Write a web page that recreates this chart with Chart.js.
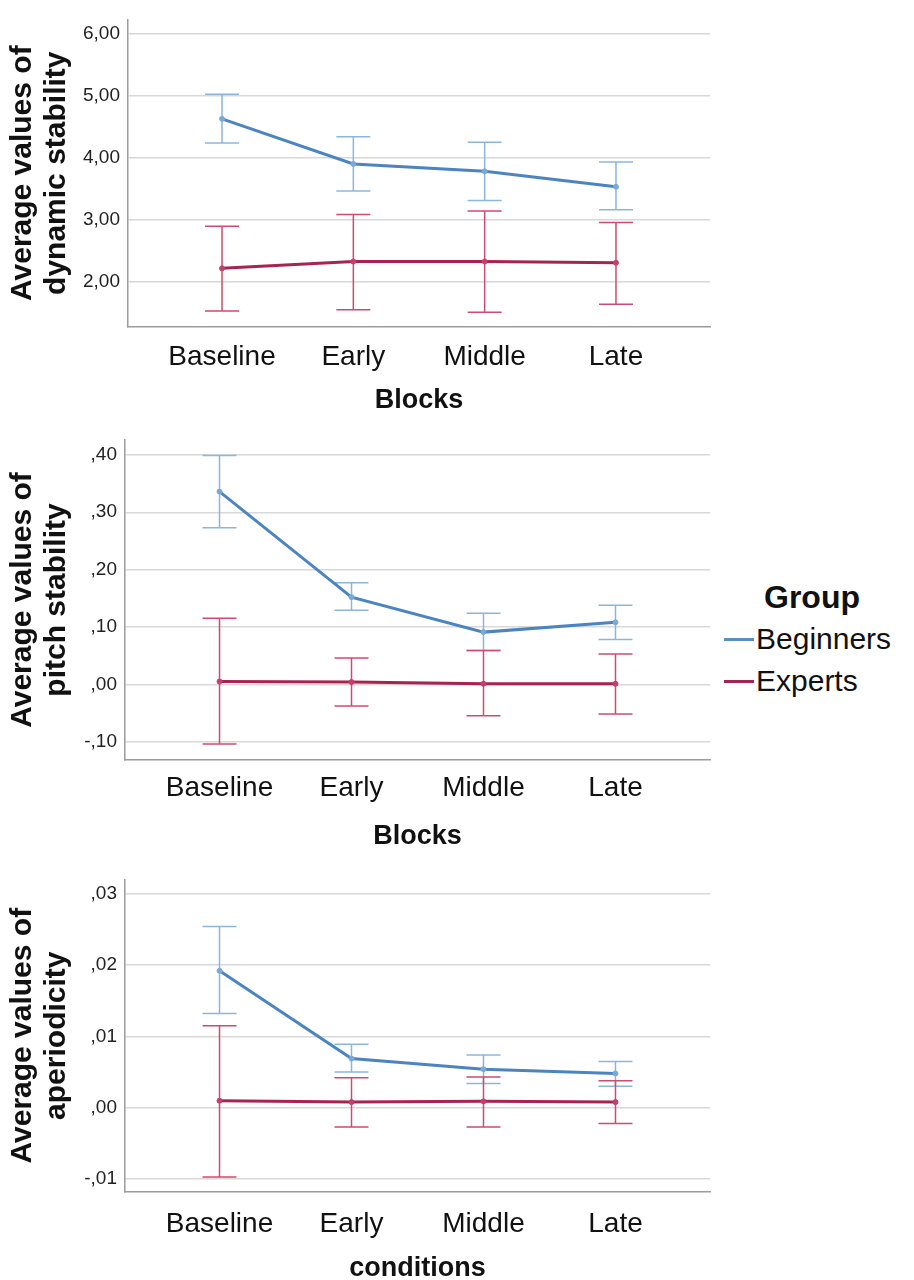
<!DOCTYPE html>
<html>
<head>
<meta charset="utf-8">
<script src="https://cdn.jsdelivr.net/npm/chart.js@4.4.1/dist/chart.umd.min.js"></script>
<style>
  html, body { margin: 0; padding: 0; background: #fff; overflow: hidden; }
  #page { position: relative; width: 914px; height: 1280px; font-family: "Liberation Sans", Arial, sans-serif; }
  canvas { position: absolute; left: 0; }
  #legend { position: absolute; left: 724px; top: 576px; color: #111; }
  #legend .ttl { font-weight: bold; font-size: 32px; margin-left: 40px; line-height: 42px; }
  #legend .item { font-size: 30px; line-height: 42px; display: flex; align-items: center; }
  #legend .swatch { width: 30px; height: 3px; margin-right: 2px; }
</style>
</head>
<body>
<div id="page">
  <canvas id="chart1" width="720" height="420" style="top:0px"></canvas>
  <canvas id="chart2" width="720" height="440" style="top:420px"></canvas>
  <canvas id="chart3" width="720" height="440" style="top:860px"></canvas>
  <div id="legend">
    <div class="ttl">Group</div>
    <div class="item"><span class="swatch" style="background:#5a8dc4"></span>Beginners</div>
    <div class="item"><span class="swatch" style="background:#a8234f"></span>Experts</div>
  </div>
</div>
<script>
const blocks = ['Baseline', 'Early', 'Middle', 'Late'];
const groups = ['Beginners', 'Experts'];

// dynamic stability
const begDynMean = [4.63, 3.90, 3.78, 3.53];
const begDynLow  = [4.24, 3.46, 3.31, 3.16];
const begDynHigh = [5.03, 4.34, 4.25, 3.93];
const expDynMean = [2.21, 2.32, 2.32, 2.30];
const expDynLow  = [1.52, 1.54, 1.50, 1.63];
const expDynHigh = [2.89, 3.08, 3.14, 2.95];

// pitch stability
const begPitchMean = [0.336, 0.152, 0.091, 0.108];
const begPitchLow  = [0.273, 0.129, 0.059, 0.078];
const begPitchHigh = [0.399, 0.177, 0.124, 0.138];
const expPitchMean = [0.005, 0.004, 0.001, 0.001];
const expPitchLow  = [-0.104, -0.038, -0.055, -0.052];
const expPitchHigh = [0.115, 0.046, 0.059, 0.053];

// aperiodicity
const begAperMean = [0.0192, 0.0069, 0.0054, 0.0048];
const begAperLow  = [0.0132, 0.0050, 0.0034, 0.0030];
const begAperHigh = [0.0254, 0.0089, 0.0074, 0.0065];
const expAperMean = [0.0010, 0.0008, 0.0009, 0.0008];
const expAperLow  = [-0.0097, -0.0027, -0.0027, -0.0022];
const expAperHigh = [0.0115, 0.0042, 0.0043, 0.0038];

const FONT = "'Liberation Sans', Arial, sans-serif";
const blue = { line: '#4c84c1', err: '#8ab6de', point: '#7aa9d8' };
const red = { line: '#a8234f', err: '#cc4c70', point: '#c2406a' };

// SPSS style numbers: comma decimal, no leading zero
function spss(v) {
  let s = Math.abs(v).toFixed(2).replace('.', ',');
  if (s.startsWith('0,')) s = s.slice(1);
  return (v < 0 ? '-' : '') + s;
}

const errorBars = {
  id: 'errorBars',
  beforeDatasetsDraw(chart) {
    const { ctx, scales: { x, y } } = chart;
    chart.data.datasets.forEach(ds => {
      ctx.save();
      ctx.strokeStyle = ds.errColor;
      ctx.lineWidth = 1.5;
      ds.low.forEach((lo, i) => {
        const px = x.getPixelForValue(i);
        const top = y.getPixelForValue(ds.high[i]);
        const bot = y.getPixelForValue(lo);
        ctx.beginPath();
        ctx.moveTo(px, top); ctx.lineTo(px, bot);
        ctx.moveTo(px - 17, top); ctx.lineTo(px + 17, top);
        ctx.moveTo(px - 17, bot); ctx.lineTo(px + 17, bot);
        ctx.stroke();
      });
      ctx.restore();
    });
  }
};

function series(label, mean, low, high, col) {
  return {
    label: label,
    data: mean.map((v, i) => ({ x: i, y: v })),
    low: low,
    high: high,
    errColor: col.err,
    borderColor: col.line,
    backgroundColor: col.point,
    pointBorderColor: col.point,
    borderWidth: 3,
    pointRadius: 2.5,
    pointBorderWidth: 1,
    tension: 0
  };
}

function makeChart(id, cfg) {
  new Chart(document.getElementById(id), {
    type: 'line',
    data: {
      datasets: [
        series(groups[0], cfg.beg[0], cfg.beg[1], cfg.beg[2], blue),
        series(groups[1], cfg.exp[0], cfg.exp[1], cfg.exp[2], red)
      ]
    },
    plugins: [errorBars],
    options: {
      responsive: false,
      animation: false,
      devicePixelRatio: 1,
      layout: { padding: { top: cfg.padTop, right: 10, left: 0, bottom: 0 } },
      plugins: { legend: { display: false }, tooltip: { enabled: false } },
      scales: {
        x: {
          type: 'linear',
          min: -0.716,
          max: 3.716,
          afterFit: s => { s.height = cfg.xHeight; },
          grid: { color: 'rgba(0,0,0,0)', drawTicks: false },
          border: { color: '#9c9c9c', width: 1.5 },
          ticks: {
            stepSize: 1,
            includeBounds: false,
            autoSkip: false,
            maxRotation: 0,
            padding: cfg.tickPad,
            color: '#111',
            font: { family: FONT, size: 28 },
            callback: v => blocks[v] || ''
          },
          title: {
            display: true,
            text: cfg.xTitle,
            color: '#111',
            font: { family: FONT, size: 27, weight: 'bold' },
            padding: { top: 0, bottom: cfg.titlePad }
          }
        },
        y: {
          min: cfg.min,
          max: cfg.max,
          afterFit: s => { s.width = cfg.left; },
          grid: { color: '#d8d8d8', lineWidth: 1.5, drawTicks: false },
          border: { color: '#9c9c9c', width: 1.5 },
          ticks: {
            stepSize: cfg.step,
            includeBounds: false,
            padding: 8,
            color: '#222',
            font: { family: FONT, size: 19 },
            callback: v => spss(v)
          },
          title: {
            display: true,
            text: cfg.yTitle,
            color: '#111',
            font: { family: FONT, size: 30, weight: 'bold', lineHeight: 1.15 },
            padding: { top: 5, bottom: 0 }
          }
        }
      }
    }
  });
}

makeChart('chart1', {
  beg: [begDynMean, begDynLow, begDynHigh],
  exp: [expDynMean, expDynLow, expDynHigh],
  min: 1.26, max: 6.24, step: 1,
  left: 128, padTop: 7, xHeight: 93, tickPad: 13, titlePad: 3,
  xTitle: 'Blocks', yTitle: ['Average values of', 'dynamic stability']
});

makeChart('chart2', {
  beg: [begPitchMean, begPitchLow, begPitchHigh],
  exp: [expPitchMean, expPitchLow, expPitchHigh],
  min: -0.132, max: 0.426, step: 0.1,
  left: 125, padTop: 20, xHeight: 100, tickPad: 11, titlePad: 7,
  xTitle: 'Blocks', yTitle: ['Average values of', 'pitch stability']
});

makeChart('chart3', {
  beg: [begAperMean, begAperLow, begAperHigh],
  exp: [expAperMean, expAperLow, expAperHigh],
  min: -0.0118, max: 0.032, step: 0.01,
  left: 125, padTop: 13, xHeight: 108, tickPad: 15, titlePad: 15,
  xTitle: 'conditions', yTitle: ['Average values of', 'aperiodicity']
});
</script>
</body>
</html>
